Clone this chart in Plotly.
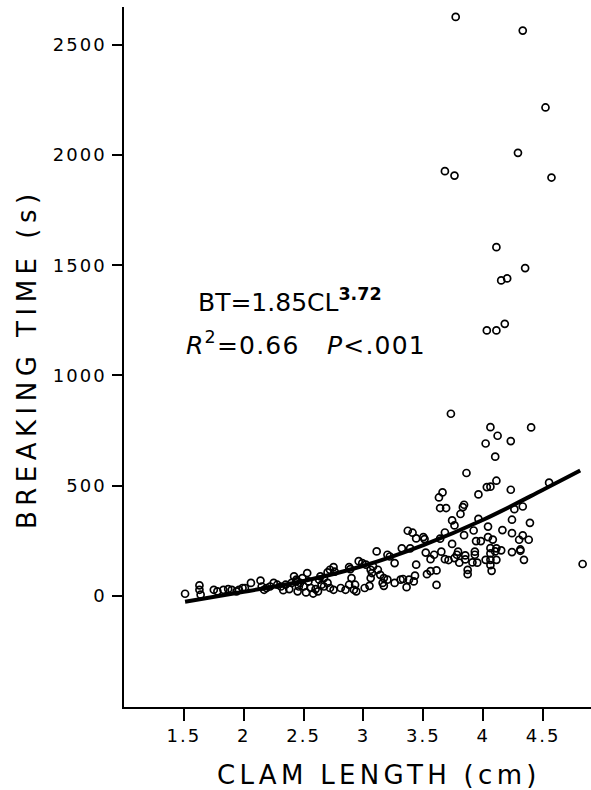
import plotly.graph_objects as go

# Clam length (cm) and breaking time (s)
clam_length = [
    3.77, 4.33, 4.52, 4.29, 3.68, 3.76, 4.57, 4.11, 4.35, 4.15, 4.20, 4.03, 4.11, 4.18,
    3.73, 4.06, 4.40, 4.12, 4.02, 4.23, 4.10, 3.86, 4.11, 4.03, 4.06, 4.23, 4.55, 3.96,
    3.66, 3.63, 3.64, 3.69, 3.84, 3.83, 3.81, 4.26, 4.33, 3.74, 3.76, 3.96, 4.04, 4.24,
    4.39, 3.37, 3.41, 3.44, 3.50, 3.51, 3.68, 3.64, 3.92, 4.16, 4.24, 4.33, 4.30, 4.38,
    4.04, 4.08, 3.84, 3.94, 3.98, 3.74, 3.32, 3.39, 3.11, 3.20, 3.52, 3.65, 3.59, 3.56,
    3.79, 3.78, 3.93, 3.93, 4.06, 4.11, 4.10, 4.06, 4.15, 4.24, 4.31, 4.31, 3.68, 3.71,
    3.76, 3.80, 3.85, 3.85, 3.91, 3.95, 4.02, 4.06, 4.11, 4.06, 4.07, 4.34, 3.87, 3.87,
    3.61, 4.83, 3.44, 3.43, 3.42, 3.36, 3.53, 3.56, 3.61, 3.26, 3.31, 3.33, 3.38, 3.20,
    3.17, 3.16, 3.17, 3.14, 3.12, 3.07, 3.06, 3.01, 3.05, 3.22, 3.26,
    2.96, 2.99, 3.02, 2.88, 2.89, 2.75, 2.72, 2.76, 2.70, 2.53, 2.64, 2.67, 2.63, 2.65,
    2.67, 2.70, 2.72, 2.75, 2.42, 2.44, 2.47, 2.50, 2.56, 2.60, 2.54, 2.49, 2.81, 2.85,
    2.88, 2.90, 2.92, 2.94, 2.93, 3.06, 3.08,
    1.51, 1.63, 1.63, 1.64, 1.75, 1.78, 1.83, 1.87, 1.90, 1.94, 1.96, 1.99, 2.06, 2.01,
    2.14, 2.15, 2.17, 2.19, 2.22, 2.25, 2.28, 2.31, 2.35, 2.40, 2.44, 2.46,
    2.33, 2.38, 2.45, 2.52, 2.58, 2.62,
]
breaking_time = [
    2627, 2565, 2216, 2010, 1927, 1907, 1898, 1582, 1487, 1431, 1440, 1204, 1204, 1234,
    826, 765, 764, 726, 691, 702, 631, 557, 522, 493, 495, 481, 513, 460,
    469, 446, 398, 398, 413, 402, 371, 393, 405, 342, 319, 349, 314, 345,
    331, 295, 286, 260, 266, 257, 287, 259, 296, 298, 284, 274, 254, 254,
    266, 255, 275, 248, 248, 235, 215, 215, 201, 186, 196, 200, 186, 166,
    200, 186, 200, 186, 216, 215, 201, 192, 206, 198, 210, 204, 166, 162,
    171, 150, 183, 165, 151, 150, 163, 163, 163, 139, 113, 163, 117, 98,
    49, 144, 141, 91, 65, 39, 98, 112, 115, 58, 73, 76, 73, 73,
    80, 58, 45, 95, 118, 103, 80, 35, 45, 178, 148,
    157, 148, 141, 130, 121, 130, 118, 109, 106, 103, 88, 80, 73, 50,
    42, 58, 35, 27, 88, 73, 58, 42, 35, 30, 65, 80, 35, 27,
    50, 80, 27, 20, 50, 118, 133,
    9, 47, 27, 5, 27, 20, 27, 30, 27, 20, 27, 35, 58, 35,
    69, 42, 27, 35, 42, 58, 50, 42, 50, 58, 65, 42,
    25, 30, 20, 15, 10, 20,
]

# Fitted curve as drawn in the picture
fit_length = [1.51, 2.0, 2.5, 3.0, 3.5, 4.0, 4.5, 4.81]
fit_time = [-27, 18, 67, 136, 230, 345, 481, 568]

x_tickvals = [1.5, 2, 2.5, 3, 3.5, 4, 4.5]
x_ticktext = ["1.5", "2", "2.5", "3", "3.5", "4", "4.5"]
y_tickvals = [0, 500, 1000, 1500, 2000, 2500]
y_ticktext = ["0", "500", "1000", "1500", "2000", "2500"]

FONT = "DejaVu Sans"


def spaced(t, px):
    return '<span style="letter-spacing:%spx">%s</span>' % (px, t)


fig = go.Figure()
fig.add_trace(go.Scatter(
    x=clam_length, y=breaking_time, mode="markers",
    marker=dict(symbol="circle-open", size=7, color="black", line=dict(width=1.7, color="black")),
    showlegend=False, hoverinfo="skip",
))
fig.add_trace(go.Scatter(
    x=fit_length, y=fit_time, mode="lines",
    line=dict(color="black", width=4, shape="spline"),
    showlegend=False, hoverinfo="skip",
))

fig.update_layout(
    width=591, height=790,
    margin=dict(l=124, r=0, t=7, b=83),
    paper_bgcolor="white", plot_bgcolor="white",
    font=dict(family=FONT, color="black"),
    xaxis=dict(
        range=[1.0, 4.9], showgrid=False, zeroline=False,
        showline=True, linecolor="black", linewidth=1.5,
        ticks="outside", ticklen=12, tickwidth=1.5, tickcolor="black",
        tickvals=x_tickvals, ticktext=[spaced(t, 2) for t in x_ticktext],
        tickfont=dict(family=FONT, size=18, color="black"),
    ),
    yaxis=dict(
        range=[-505, 2672], showgrid=False, zeroline=False,
        showline=True, linecolor="black", linewidth=1.5,
        ticks="outside", ticklen=10, tickwidth=1.5, tickcolor="black",
        tickvals=y_tickvals, ticktext=[spaced(t, 2) for t in y_ticktext],
        tickfont=dict(family=FONT, size=18, color="black"),
        ticklabelstandoff=2,
    ),
    annotations=[
        dict(text=spaced("BREAKING TIME (s)", 5.5), xref="paper", yref="paper",
             x=-0.2077, y=0.497, xanchor="center", yanchor="middle",
             textangle=-90, showarrow=False,
             font=dict(family=FONT, size=26, color="black")),
        dict(text=spaced("CLAM LENGTH (cm)", 4.3), xref="paper", yref="paper",
             x=0.545, y=-0.097, xanchor="center", yanchor="middle",
             showarrow=False,
             font=dict(family=FONT, size=26, color="black")),
        dict(text="BT=1.85CL<sup><b>3.72</b></sup>", xref="x", yref="y",
             x=1.60, y=1340, xanchor="left", yanchor="middle", showarrow=False,
             font=dict(family=FONT, size=25, color="black")),
        dict(text=spaced("<i>R</i><sup>2</sup>=0.66&nbsp;&nbsp;&nbsp;<i>P</i>&lt;.001", 1.2),
             xref="x", yref="y",
             x=1.50, y=1143, xanchor="left", yanchor="middle", showarrow=False,
             font=dict(family=FONT, size=25, color="black")),
    ],
)

fig.write_html("out.html")
